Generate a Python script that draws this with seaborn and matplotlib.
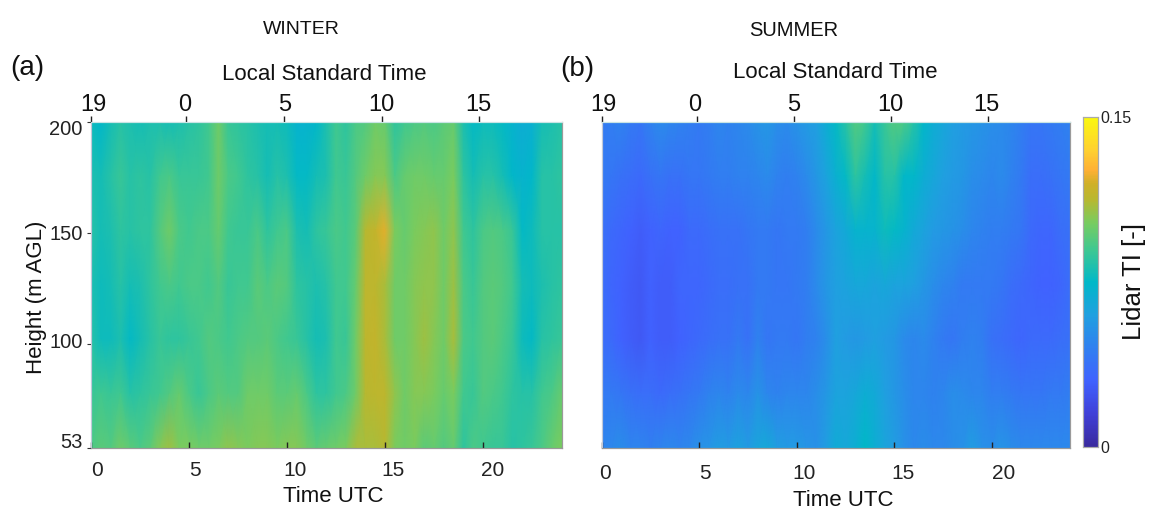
#!/usr/bin/env python3
# -*- coding: utf-8 -*-
"""
Lidar turbulence intensity by height and time, winter and summer
"""

import matplotlib
matplotlib.use('Agg')
import matplotlib.pyplot as plt
import matplotlib.transforms as mtransforms
from matplotlib.colors import LinearSegmentedColormap
import numpy as np
import pandas as pd
import seaborn as sns

# half hourly columns, 0 to 24 UTC, values are TI x 1000
hours_utc = [i / 2 for i in range(49)]
heights = [200, 175.5, 151, 126.5, 102, 77.5, 53]

winter_200 = [78, 74, 80, 84, 82, 80, 82, 82, 80, 82,
              84, 86, 90, 100, 88, 86, 84, 82, 80, 80,
              78, 72, 72, 74, 82, 90, 86, 92, 94, 100,
              98, 86, 90, 92, 94, 92, 96, 98, 82, 76,
              78, 78, 76, 72, 68, 70, 80, 82, 84]
winter_175 = [82, 80, 84, 88, 84, 86, 84, 90, 92, 88,
              88, 88, 90, 100, 92, 90, 86, 84, 80, 84,
              82, 76, 76, 80, 82, 90, 88, 94, 100, 104,
              104, 92, 98, 100, 100, 98, 98, 102, 86, 80,
              84, 84, 80, 74, 72, 74, 84, 84, 86]
winter_150 = [84, 80, 82, 86, 84, 86, 86, 94, 100, 92,
              90, 92, 92, 98, 90, 88, 88, 92, 86, 90,
              92, 82, 80, 86, 88, 92, 90, 96, 112, 116,
              122, 102, 98, 102, 104, 106, 100, 106, 90, 86,
              92, 94, 92, 88, 76, 78, 84, 84, 84]
winter_125 = [82, 78, 80, 84, 80, 82, 86, 90, 92, 90,
              92, 92, 90, 94, 88, 90, 90, 96, 92, 96,
              94, 86, 84, 82, 84, 90, 90, 98, 114, 114,
              110, 100, 100, 104, 106, 106, 100, 108, 92, 88,
              94, 96, 94, 90, 80, 78, 82, 84, 86]
winter_100 = [84, 78, 78, 82, 76, 80, 84, 88, 86, 86,
              88, 90, 94, 92, 90, 92, 94, 94, 96, 92,
              90, 88, 84, 80, 82, 90, 88, 100, 114, 116,
              110, 100, 100, 104, 108, 104, 100, 110, 92, 90,
              94, 96, 92, 88, 78, 76, 84, 86, 88]
winter_75 = [88, 90, 88, 90, 84, 86, 88, 90, 94, 98,
             92, 88, 92, 96, 94, 94, 100, 100, 100, 96,
             96, 98, 92, 86, 86, 90, 92, 100, 112, 114,
             114, 106, 100, 104, 104, 102, 98, 102, 90, 88,
             94, 92, 90, 86, 84, 84, 90, 92, 98]
winter_53 = [92, 96, 94, 100, 96, 92, 96, 104, 108, 102,
             102, 100, 100, 102, 106, 104, 102, 104, 104, 102,
             104, 104, 100, 96, 98, 100, 102, 110, 110, 110,
             112, 102, 100, 102, 96, 98, 94, 98, 86, 92,
             90, 88, 88, 84, 86, 88, 92, 98, 102]

summer_200 = [42, 44, 46, 42, 40, 46, 50, 48, 46, 44,
              42, 44, 48, 46, 48, 50, 54, 56, 52, 50,
              54, 58, 60, 68, 76, 84, 94, 90, 80, 88,
              94, 92, 84, 74, 68, 64, 60, 58, 56, 54,
              52, 50, 48, 44, 40, 40, 42, 44, 46]
summer_175 = [42, 40, 38, 36, 34, 38, 40, 38, 38, 40,
              40, 42, 44, 44, 46, 46, 48, 50, 46, 44,
              46, 50, 56, 62, 70, 76, 86, 80, 74, 84,
              84, 74, 74, 68, 64, 60, 58, 56, 52, 50,
              48, 50, 46, 42, 36, 36, 38, 40, 42]
summer_150 = [38, 34, 32, 30, 28, 30, 32, 30, 30, 34,
              34, 36, 38, 38, 38, 40, 42, 42, 40, 42,
              42, 44, 50, 56, 62, 66, 72, 72, 72, 78,
              76, 72, 66, 62, 58, 56, 54, 52, 48, 46,
              44, 44, 42, 40, 34, 32, 32, 36, 38]
summer_125 = [36, 32, 30, 28, 26, 30, 28, 28, 32, 32,
              32, 34, 36, 36, 38, 38, 42, 42, 40, 40,
              42, 44, 50, 56, 60, 62, 64, 64, 62, 64,
              62, 62, 60, 56, 52, 48, 46, 42, 42, 42,
              42, 40, 36, 34, 32, 30, 30, 32, 36]
summer_100 = [36, 34, 30, 28, 26, 30, 28, 28, 30, 32,
              34, 36, 38, 38, 42, 38, 46, 40, 42, 42,
              40, 44, 46, 52, 60, 58, 56, 58, 60, 58,
              56, 50, 48, 50, 46, 42, 40, 44, 46, 44,
              38, 36, 34, 32, 34, 34, 34, 36, 38]
summer_75 = [42, 42, 40, 38, 36, 36, 34, 36, 38, 40,
             42, 46, 48, 46, 50, 48, 54, 48, 46, 48,
             48, 48, 52, 56, 62, 62, 64, 68, 66, 60,
             56, 52, 48, 48, 46, 48, 52, 50, 48, 48,
             44, 44, 42, 40, 40, 40, 42, 42, 44]
summer_53 = [47, 49, 51, 47, 47, 45, 47, 49, 47, 49,
             53, 55, 59, 57, 61, 57, 63, 65, 59, 57,
             57, 55, 53, 59, 67, 65, 69, 75, 69, 63,
             59, 53, 49, 51, 49, 49, 51, 53, 59, 53,
             51, 55, 51, 49, 49, 49, 49, 49, 49]

utc_ticks = [0, 5, 10, 15, 20]
lst_ticks_utc = [0, 4.87, 9.87, 14.82, 19.78]
lst_labels = ['19', '0', '5', '10', '15']
height_ticks = [200, 150, 100, 53]

parula_like = ['#3a2a9e', '#4040d8', '#4062ff', '#3080f0', '#20a0e0', '#00b8c8',
               '#40c890', '#78cc60', '#b8b830', '#d0b028', '#ffb035', '#ffd030',
               '#faf80f']
cmap_stops = [0, 0.1, 0.2, 0.3, 0.4, 0.5, 0.6, 0.68, 0.75, 0.8, 0.84, 0.9, 1]

WIDTH, HEIGHT = 1150, 512


def build_frame(rows):
    """Stack the height rows into a table for the heatmap"""
    return pd.DataFrame(np.array(rows) / 1000, index=heights, columns=hours_utc)


def axes_box(left, top, right, bottom):
    """Figure fractions for an axes given in pixels"""
    return [left / WIDTH, 1 - bottom / HEIGHT,
            (right - left) / WIDTH, (bottom - top) / HEIGHT]


def put_text(fig, x, y, text, size, **kwargs):
    fig.text(x / WIDTH, 1 - y / HEIGHT, text, fontsize=size,
             ha='center', va='center', color='#111111', **kwargs)


def shift_labels(fig, labels, dx, dy):
    """Nudge tick labels by pixels, the originals sit off their ticks"""
    for label, x, y in zip(labels, dx, dy):
        offset = mtransforms.ScaledTranslation(x / fig.dpi, y / fig.dpi, fig.dpi_scale_trans)
        label.set_transform(label.get_transform() + offset)


def draw_panel(fig, box, frame, cmap, cbar_ax=None, show_y=False, bottom_dx=(), top_dx=(), bottom_pad=9):
    ax = fig.add_axes(axes_box(*box))
    sns.heatmap(frame, ax=ax, cmap=cmap, vmin=0, vmax=0.15, shading='gouraud',
                cbar=cbar_ax is not None, cbar_ax=cbar_ax,
                cbar_kws={'ticks': [0, 0.15]} if cbar_ax is not None else None)
    ax.set_axisbelow(False)
    ax.set_xlim(0, len(hours_utc) - 1)
    ax.set_ylim(len(heights) - 1, 0)
    step = heights[0] - heights[1]

    ax.set_xticks([t * 2 for t in utc_ticks], [str(t) for t in utc_ticks], rotation=0)
    ax.tick_params(axis='x', direction='in', length=4, width=1, color='#222222',
                   labelsize=15, pad=bottom_pad, labelcolor='#222222', bottom=True)
    shift_labels(fig, ax.get_xticklabels(), bottom_dx, [0] * len(utc_ticks))

    if show_y:
        ax.set_yticks([(heights[0] - h) / step for h in height_ticks],
                      [str(h) for h in height_ticks], rotation=0)
        ax.tick_params(axis='y', direction='out', length=3, width=0.8, color='#333333',
                       labelsize=14.5, pad=3, labelcolor='#222222', left=True)
        shift_labels(fig, ax.get_yticklabels(), [0, 0, 0, 0], [-8, -2, 1, 5])
    else:
        ax.set_yticks([])
    ax.set_xlabel('')
    ax.set_ylabel('')

    top = ax.twiny()
    top.set_xlim(ax.get_xlim())
    top.set_xticks([t * 2 for t in lst_ticks_utc], lst_labels)
    top.tick_params(axis='x', direction='out', length=4, width=1, color='#222222',
                    labelsize=17, pad=0, labelcolor='#111111')
    shift_labels(fig, top.get_xticklabels(), top_dx, [0] * len(lst_labels))

    for axis in (ax, top):
        for spine in axis.spines.values():
            spine.set_visible(True)
            spine.set_linewidth(0.8)
            spine.set_color('#9a9a9a')
        axis.spines['top'].set_color('#c8e4e4')
        axis.spines['left'].set_color('#c0c8d8')
    return ax


sns.set_theme(style='white')
plt.rcParams['font.family'] = ['Liberation Sans', 'DejaVu Sans']

winter = build_frame([winter_200, winter_175, winter_150, winter_125,
                      winter_100, winter_75, winter_53])
summer = build_frame([summer_200, summer_175, summer_150, summer_125,
                      summer_100, summer_75, summer_53])
lidar_cmap = LinearSegmentedColormap.from_list('parula_like', list(zip(cmap_stops, parula_like)))

fig = plt.figure(figsize=(WIDTH / 100, HEIGHT / 100), dpi=100)
cax = fig.add_axes(axes_box(1082.5, 117, 1098, 447))

draw_panel(fig, (91, 121.5, 561.5, 448), winter, lidar_cmap, show_y=True,
           bottom_dx=[6, 6, 8, 8, 10], top_dx=[2, -2, 0, 0, 0], bottom_pad=9)
draw_panel(fig, (601.5, 121.5, 1070, 447.5), summer, lidar_cmap, cbar_ax=cax,
           bottom_dx=[3, 6, 7, 9, 12], top_dx=[2, -2, 0, 0, -1], bottom_pad=12)

cax.set_yticks([0, 0.15], ['0', '0.15'])
cax.tick_params(axis='y', length=0, labelsize=11.5, pad=2, labelcolor='#222222', right=True)
for spine in cax.spines.values():
    spine.set_visible(True)
    spine.set_linewidth(0.8)
    spine.set_color('#aaaaaa')

put_text(fig, 301, 30, 'WINTER', 14)
put_text(fig, 794, 30, 'SUMMER', 14.5)
put_text(fig, 27, 68, '(a)', 20)
put_text(fig, 577, 69, '(b)', 20)
put_text(fig, 324, 74, 'Local Standard Time', 16)
put_text(fig, 835, 72, 'Local Standard Time', 16)
put_text(fig, 333, 496, 'Time UTC', 16)
put_text(fig, 843, 500, 'Time UTC', 16)
put_text(fig, 37, 297, 'Height (m AGL)', 16, rotation=90)
put_text(fig, 1134, 281, 'Lidar TI [-]', 18.5, rotation=90)

fig.savefig('out.png', dpi=100)
